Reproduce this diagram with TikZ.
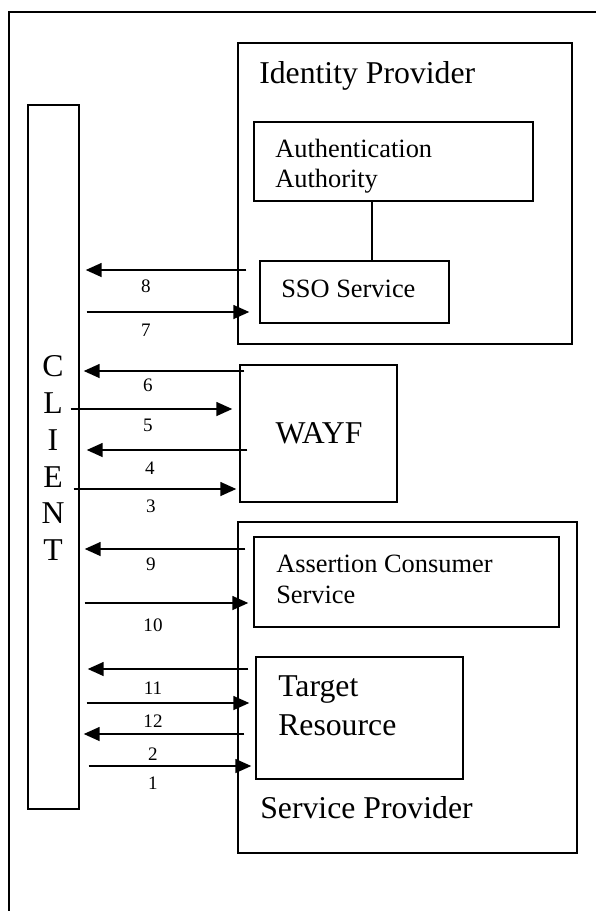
\documentclass[tikz,border=0pt]{standalone}
\usepackage{fontspec}
\setmainfont{Liberation Serif}
\usetikzlibrary{arrows.meta,fit,calc}
\begin{document}
\begin{tikzpicture}[x=0.75pt,y=-0.75pt,
  boxline/.style={draw,line width=1.1pt,inner sep=0pt,fit={#1}},
  arr/.style={line width=1.2pt,-{Triangle[length=12pt,width=10.5pt]}},
  lbl/.style={inner sep=0pt,font=\fontsize{14.3pt}{16pt}\selectfont},
  mid/.style={inner sep=0pt,anchor=base west,font=\fontsize{19.8pt}{22pt}\selectfont},
  big/.style={inner sep=0pt,anchor=base west,font=\fontsize{23.8pt}{27pt}\selectfont},
  letter/.style={inner sep=0pt,anchor=base,font=\fontsize{23.8pt}{27pt}\selectfont}]
\useasboundingbox (0,0) rectangle (596,911);
% outer frame
\draw[line width=1.9pt] (9,911) -- (9,12) -- (596,12);
% boxes
\node[boxline={(28,105) (79,809)}] (client) {};
\node[boxline={(238,43) (572,344)}] (idp) {};
\node[boxline={(254,122) (533,201)}] (aa) {};
\node[boxline={(260,261) (449,323)}] (sso) {};
\node[boxline={(240,365) (397,502)}] (wayf) {};
\node[boxline={(238,522) (577,853)}] (sp) {};
\node[boxline={(254,537) (559,627)}] (acs) {};
\node[boxline={(256,657) (463,779)}] (tr) {};
% texts
\node[big] (tidp) at (259,83) {Identity Provider};
\node[mid] (taa1) at (275,157) {Authentication};
\node[mid] (taa2) at (275,187) {Authority};
\node[mid] (tsso) at (281,297) {SSO Service};
\node[inner sep=0pt,anchor=base,font=\fontsize{23.8pt}{27pt}\selectfont] (twayf) at (319,443) {WAYF};
\node[mid] (tacs1) at (276,572) {Assertion Consumer};
\node[mid] (tacs2) at (276,603) {Service};
\node[big] (ttr1) at (278,696) {Target};
\node[big] (ttr2) at (278,735) {Resource};
\node[big] (tsp) at (260,818) {Service Provider};
\node[letter] (lc) at (53,376) {C};
\node[letter] (ll) at (53,413) {L};
\node[letter] (li) at (53,450) {I};
\node[letter] (le) at (53,487) {E};
\node[letter] (ln) at (53,523) {N};
\node[letter] (lt) at (53,560) {T};
% connector between AA and SSO
\draw[line width=1.1pt] (aa.south -| 372,0) -- (sso.north -| 372,0);
% arrows
\draw[arr] ($(idp.west|-0,270)+(9,0)$) -- ($(client.east|-0,270)+(6,0)$);
\draw[arr] ($(client.east|-0,312)+(7,0)$) -- ($(sso.west|-0,312)+(-10,0)$);
\draw[arr] ($(wayf.west|-0,371)+(5,0)$) -- ($(client.east|-0,371)+(4,0)$);
\draw[arr] ($(client.east|-0,409)+(-9,0)$) -- ($(wayf.west|-0,409)+(-7,0)$);
\draw[arr] ($(wayf.west|-0,450)+(8,0)$) -- ($(client.east|-0,450)+(7,0)$);
\draw[arr] ($(client.east|-0,489)+(-6,0)$) -- ($(wayf.west|-0,489)+(-3,0)$);
\draw[arr] ($(sp.west|-0,549)+(8,0)$) -- ($(client.east|-0,549)+(5,0)$);
\draw[arr] ($(client.east|-0,603)+(5,0)$) -- ($(acs.west|-0,603)+(-5,0)$);
\draw[arr] ($(tr.west|-0,669)+(-7,0)$) -- ($(client.east|-0,669)+(8,0)$);
\draw[arr] ($(client.east|-0,703)+(7,0)$) -- ($(tr.west|-0,703)+(-6,0)$);
\draw[arr] ($(tr.west|-0,734)+(-11,0)$) -- ($(client.east|-0,734)+(4,0)$);
\draw[arr] ($(client.east|-0,766)+(9,0)$) -- ($(tr.west|-0,766)+(-4,0)$);
% labels
\node[lbl] (n8) at (146,286) {8};
\node[lbl] (n7) at (146,330) {7};
\node[lbl] (n6) at (148,385) {6};
\node[lbl] (n5) at (148,425) {5};
\node[lbl] (n4) at (150,468) {4};
\node[lbl] (n3) at (151,506) {3};
\node[lbl] (n9) at (151,564) {9};
\node[lbl] (n10) at (153,625) {10};
\node[lbl] (n11) at (153,688) {11};
\node[lbl] (n12) at (153,721) {12};
\node[lbl] (n2) at (153,754) {2};
\node[lbl] (n1) at (153,783) {1};
\end{tikzpicture}
\end{document}
